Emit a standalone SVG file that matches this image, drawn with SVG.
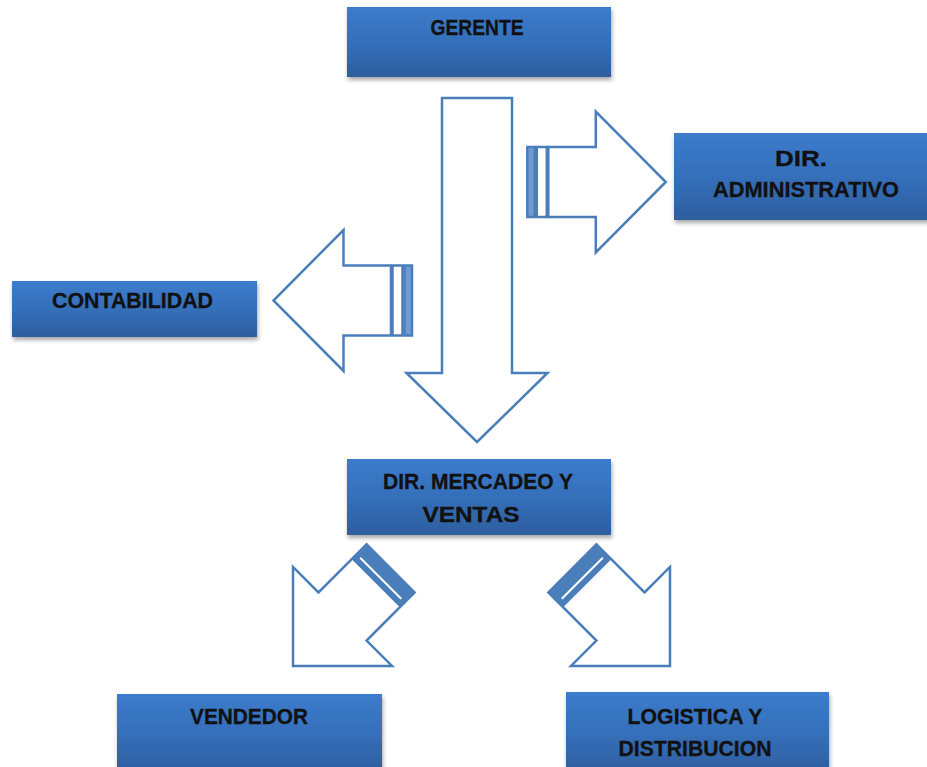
<svg xmlns="http://www.w3.org/2000/svg" width="927" height="767" viewBox="0 0 927 767">
<defs>
<linearGradient id="bg" x1="0" y1="0" x2="0" y2="1">
<stop offset="0" stop-color="#3c7ccc"/>
<stop offset="0.5" stop-color="#356fba"/>
<stop offset="1" stop-color="#2d5e9e"/>
</linearGradient>
<filter id="sh" x="-10%" y="-20%" width="120%" height="150%">
<feDropShadow dx="1" dy="3" stdDeviation="2" flood-color="#000" flood-opacity="0.35"/>
</filter>
<g id="striped">
<rect x="0" y="-35" width="7.5" height="70" fill="#6f9bd2" stroke="#4a7ebb" stroke-width="2.5"/>
<rect x="9.5" y="-35" width="10" height="70" fill="#fff" stroke="#4a7ebb" stroke-width="2.5"/>
<path d="M21,-35 H68.5 V-70.5 L138.5,0 L68.5,70.5 V35 H21 Z" fill="#fff" stroke="#4a7ebb" stroke-width="2.5"/>
</g>
<g id="diag">
<path d="M0,-34 H68 V-70 L138,0 L68,70 V34 H0 Z" fill="#fff" stroke="#4a7ebb" stroke-width="2.5"/>
<rect x="0" y="-34" width="21" height="68" fill="#4a7ebb"/>
<line x1="14" y1="-29" x2="14" y2="29" stroke="#fff" stroke-width="2"/>
</g>
</defs>
<style>
.box{fill:url(#bg);filter:url(#sh)}
.t{font-family:"Liberation Sans",Arial,sans-serif;font-weight:bold;font-size:22px;fill:#111;stroke:#111;stroke-width:0.3;text-anchor:middle}
</style>
<rect width="927" height="767" fill="#fff"/>
<g id="connectors">
<path d="M442,98 H512 V373 H547.5 L477,442 L406.5,373 H442 Z" fill="#fff" stroke="#4a7ebb" stroke-width="2.5"/>
<use href="#striped" transform="translate(527.3,182)"/>
<use href="#striped" transform="translate(412,300.5) rotate(180)"/>
<use href="#diag" transform="translate(390.6,568.4) rotate(135)"/>
<use href="#diag" transform="translate(572.4,568.4) rotate(45)"/>
</g>
<g id="gerente">
<rect class="box" x="347" y="7" width="264" height="70"/>
<text class="t" x="477" y="35" textLength="93" lengthAdjust="spacingAndGlyphs">GERENTE</text>
</g>
<g id="dir-administrativo">
<rect class="box" x="674" y="133" width="260" height="87"/>
<text class="t" x="801" y="166" textLength="52" lengthAdjust="spacingAndGlyphs">DIR.</text>
<text class="t" x="806" y="197" textLength="186" lengthAdjust="spacingAndGlyphs">ADMINISTRATIVO</text>
</g>
<g id="contabilidad">
<rect class="box" x="12" y="281" width="245" height="56"/>
<text class="t" x="132.5" y="308" textLength="161" lengthAdjust="spacingAndGlyphs">CONTABILIDAD</text>
</g>
<g id="dir-mercadeo">
<rect class="box" x="347" y="459" width="264" height="76"/>
<text class="t" x="478" y="489" textLength="190" lengthAdjust="spacingAndGlyphs">DIR. MERCADEO Y</text>
<text class="t" x="471" y="522" textLength="97" lengthAdjust="spacingAndGlyphs">VENTAS</text>
</g>
<g id="vendedor">
<rect class="box" x="117" y="694" width="265" height="80"/>
<text class="t" x="249" y="724" textLength="118" lengthAdjust="spacingAndGlyphs">VENDEDOR</text>
</g>
<g id="logistica">
<rect class="box" x="566" y="692" width="263" height="82"/>
<text class="t" x="695" y="724" textLength="135" lengthAdjust="spacingAndGlyphs">LOGISTICA  Y</text>
<text class="t" x="695" y="756" textLength="153" lengthAdjust="spacingAndGlyphs">DISTRIBUCION</text>
</g>
</svg>
